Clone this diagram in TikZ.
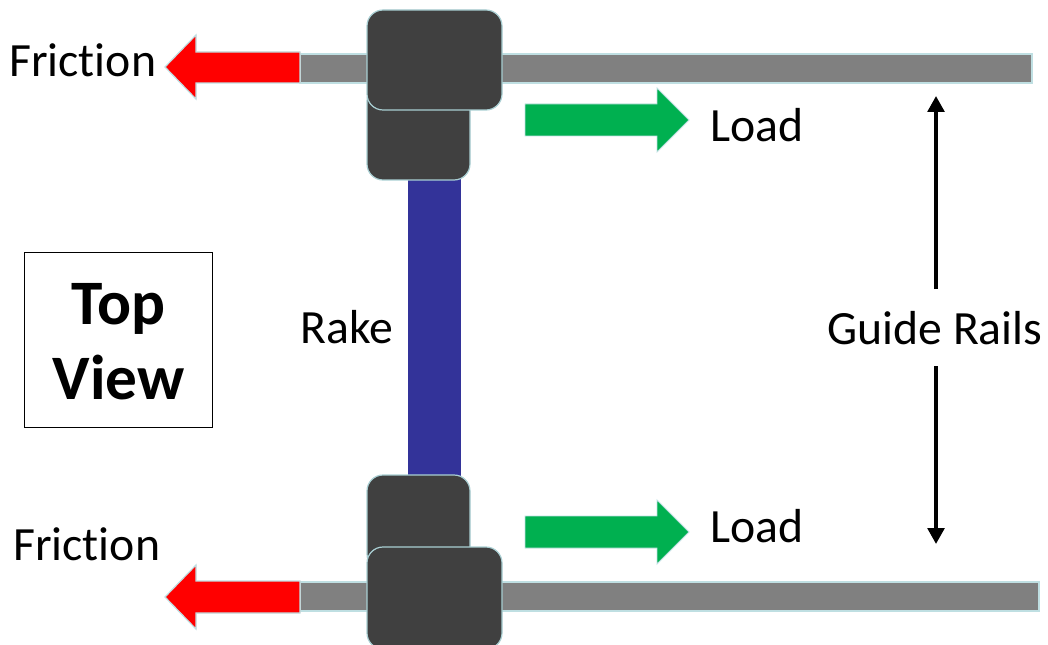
\documentclass[tikz,border=0pt]{standalone}
\usepackage{fontspec}
\setmainfont[Ligatures=NoCommon]{Carlito}
\usetikzlibrary{arrows.meta}
\definecolor{railgray}{HTML}{808080}
\definecolor{railedge}{HTML}{BFDFE2}
\definecolor{blockedge}{HTML}{A9CFD3}
\definecolor{blockdark}{HTML}{404040}
\definecolor{rakeblue}{HTML}{333399}
\definecolor{loadgreen}{HTML}{00B050}
\tikzset{
 rail/.style={fill=railgray,draw=railedge,line width=0.9pt},
 block/.style={fill=blockdark,draw=blockedge,line width=0.9pt,rounded corners=12pt},
 redarrow/.style={fill=red,draw=railedge,line width=0.9pt},
 greenarrow/.style={fill=loadgreen,draw=railedge,line width=0.7pt},
 lab/.style={font=\fontsize{35.8}{40}\selectfont,inner sep=0pt,text=black},
 dim/.style={draw=black,line width=2.8pt,-{Triangle[length=12pt,width=12.5pt]}}
}
\begin{document}
\begin{tikzpicture}[x=0.75pt,y=-0.75pt]
\useasboundingbox (0,0) rectangle (1048,645);
\draw[rail] (300,54) rectangle (1032,83);
\draw[rail] (300,582) rectangle (1039,611);
\fill[rakeblue] (408,170) rectangle (461,485);
\draw[block] (367,85) rectangle (470,180);
\draw[block] (367,10) rectangle (502,110);
\draw[block] (367,475) rectangle (470,570);
\draw[block] (367,547) rectangle (502,649);
\draw[redarrow] (300,52) -- (196,52) -- (196,35) -- (165,67) -- (196,99) -- (196,83) -- (300,83) -- cycle;
\draw[redarrow] (300,581) -- (196,581) -- (196,565) -- (165,597) -- (196,629) -- (196,613) -- (300,613) -- cycle;
\draw[greenarrow] (525,104) -- (657,104) -- (657,88) -- (689,120) -- (657,152) -- (657,136) -- (525,136) -- cycle;
\draw[greenarrow] (525,516) -- (657,516) -- (657,500) -- (689,532) -- (657,564) -- (657,548) -- (525,548) -- cycle;
\node[lab,anchor=west] (f1) at (9,60) {Friction};
\node[lab,anchor=west] (f2) at (13,544) {Friction};
\node[lab,anchor=west] (l1) at (710,125) {Load};
\node[lab,anchor=west] (l2) at (710,526) {Load};
\node[lab,anchor=west] (rk) at (300,327) {Rake};
\node[lab,anchor=west] (gr) at (827,328) {Guide Rails};
\node[draw=black,line width=1pt,minimum width=141pt,minimum height=131pt,inner sep=0pt] (tv) at (118.5,340) {};
\node[font=\fontsize{47.5}{56}\selectfont\bfseries,align=center,inner sep=0pt] (tvt) at (118.5,342) {Top\\View};
\coordinate (gt) at (936,96);
\coordinate (gb) at (936,544);
\draw[dim] (936,289) -- (gt);
\draw[dim] (936,366) -- (gb);
\end{tikzpicture}
\end{document}
